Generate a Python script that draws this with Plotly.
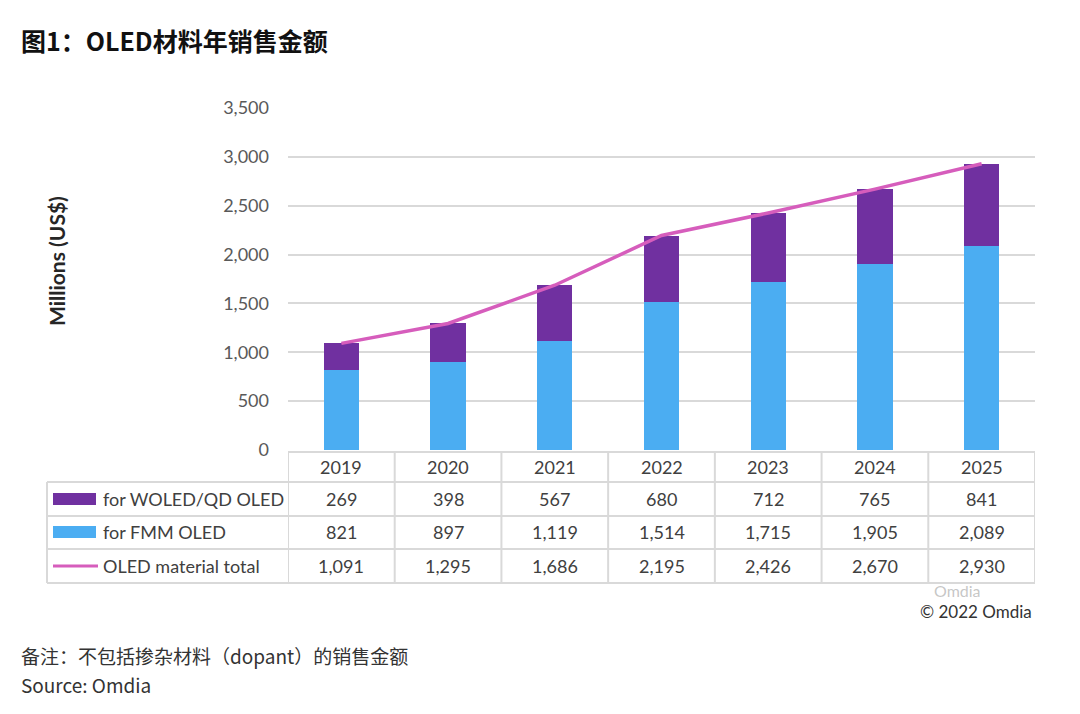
import plotly.graph_objects as go

years = ["2019", "2020", "2021", "2022", "2023", "2024", "2025"]
woled = [269, 398, 567, 680, 712, 765, 841]
fmm = [821, 897, 1119, 1514, 1715, 1905, 2089]
total = [1091, 1295, 1686, 2195, 2426, 2670, 2930]
series_names = ["for WOLED/QD OLED", "for FMM OLED", "OLED material total"]
y_ticks = [0, 500, 1000, 1500, 2000, 2500, 3000, 3500]

PURPLE = "#7030A0"
BLUE = "#4BADF2"
PINK = "#D65DBC"
GRID = "#D9D9D9"
TXT = "#404040"

W, H = 1080, 714


def px(x):
    return x / W


def py(y):
    return 1 - y / H


LAT = "Lato, 'Noto Sans', sans-serif"
CJK = "'Noto Sans CJK SC', 'Noto Sans', sans-serif"

fig = go.Figure()
fig.add_trace(go.Bar(x=years, y=fmm, name=series_names[1], marker_color=BLUE, width=0.33))
fig.add_trace(go.Bar(x=years, y=woled, name=series_names[0], marker_color=PURPLE, width=0.33))
fig.add_trace(go.Scatter(x=years, y=total, name=series_names[2], mode="lines",
                         line=dict(color=PINK, width=3.5)))

x0, x1 = 288, 1035
y_top, y_zero = 108, 450
fig.update_layout(
    template="none",
    width=W, height=H, autosize=False, margin=dict(l=0, r=0, t=0, b=0, pad=0),
    paper_bgcolor="white", plot_bgcolor="white",
    barmode="stack", showlegend=False,
    xaxis=dict(type="category", domain=[px(x0), px(x1)], range=[-0.5, 6.5],
               showticklabels=False, showgrid=False, zeroline=False, showline=False,
               ticks="", automargin=False, fixedrange=True),
    yaxis=dict(domain=[py(y_zero), py(y_top)], range=[0, 3500], tickvals=y_ticks,
               tickformat=",d", showgrid=True, gridcolor=GRID, gridwidth=1.5,
               zeroline=False, showline=False, ticks="", automargin=False,
               tickfont=dict(family=LAT, size=18, color="#595959"),
               ticklabelstandoff=18, fixedrange=True),
)

annotations = []
shapes = []

# Title
annotations.append(dict(text="<b>图1：OLED材料年销售金额</b>", xref="paper", yref="paper",
                        x=px(19), y=py(40), xanchor="left", yanchor="middle", showarrow=False,
                        font=dict(family=CJK, size=25, color="#111111")))
# Y axis title
annotations.append(dict(text="<b>Millions (US$)</b>", xref="paper", yref="paper",
                        x=px(56), y=py(261), xanchor="center", yanchor="middle", showarrow=False,
                        textangle=-90, font=dict(family=LAT, size=21, color="#262626")))

# Table grid
row_lines = [452, 482, 516, 549, 583]
tbl_left = 47
for i, yl in enumerate(row_lines):
    shapes.append(dict(type="line", xref="paper", yref="paper",
                       x0=px(x0 if i == 0 else tbl_left), x1=px(x1), y0=py(yl), y1=py(yl),
                       line=dict(color=GRID, width=2)))
for k in range(len(years) + 1):
    shapes.append(dict(type="line", xref="x", yref="paper", x0=k - 0.5, x1=k - 0.5,
                       y0=py(452), y1=py(583), line=dict(color=GRID, width=2)))
shapes.append(dict(type="line", xref="paper", yref="paper", x0=px(tbl_left), x1=px(tbl_left),
                   y0=py(482), y1=py(583), line=dict(color=GRID, width=2)))

row_centers = [467, 499, 532, 566]
cell_font = dict(family=LAT, size=18, color=TXT)
table_rows = [woled, fmm, total]
for j, yr in enumerate(years):
    annotations.append(dict(text=yr, xref="x", yref="paper", x=j, y=py(row_centers[0]),
                            xanchor="center", yanchor="middle", showarrow=False, font=cell_font))
    for r, vals in enumerate(table_rows):
        annotations.append(dict(text=f"{vals[j]:,}", xref="x", yref="paper", x=j,
                                y=py(row_centers[r + 1]), xanchor="center", yanchor="middle",
                                showarrow=False, font=cell_font))

# Legend keys in table
for r, name in enumerate(series_names):
    yc = row_centers[r + 1]
    if r < 2:
        shapes.append(dict(type="rect", xref="paper", yref="paper", x0=px(53), x1=px(96),
                           y0=py(yc - 6), y1=py(yc + 6), line=dict(width=0),
                           fillcolor=[PURPLE, BLUE][r]))
    else:
        shapes.append(dict(type="line", xref="paper", yref="paper", x0=px(53), x1=px(98),
                           y0=py(yc), y1=py(yc), line=dict(color=PINK, width=3)))
    annotations.append(dict(text=name, xref="paper", yref="paper", x=px(101), y=py(yc),
                            xanchor="left", yanchor="middle", showarrow=False, font=cell_font))

# Watermark and credits
annotations.append(dict(text="Omdia", xref="paper", yref="paper", x=px(932), y=py(590),
                        xanchor="left", yanchor="middle", showarrow=False,
                        font=dict(family=LAT, size=16, color="rgba(150,150,150,0.55)")))
annotations.append(dict(text="© 2022 Omdia", xref="paper", yref="paper", x=px(1034), y=py(611),
                        xanchor="right", yanchor="middle", showarrow=False,
                        font=dict(family=LAT, size=17, color="#333333")))
annotations.append(dict(text="备注：不包括掺杂材料（dopant）的销售金额", xref="paper", yref="paper",
                        x=px(19), y=py(655), xanchor="left", yanchor="middle", showarrow=False,
                        font=dict(family=CJK, size=19, color="#333333")))
annotations.append(dict(text="Source: Omdia", xref="paper", yref="paper",
                        x=px(19), y=py(684), xanchor="left", yanchor="middle", showarrow=False,
                        font=dict(family=CJK, size=19, color="#333333")))

fig.update_layout(annotations=annotations, shapes=shapes)
fig.write_html("out.html", config={"displayModeBar": False},
               post_script="document.body.style.margin='0';")
